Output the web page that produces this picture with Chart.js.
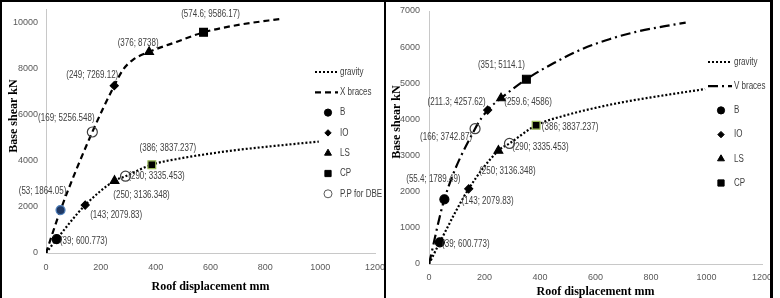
<!DOCTYPE html>
<html>
<head>
<meta charset="utf-8">
<script src="https://cdn.jsdelivr.net/npm/chart.js@4"></script>
<style>
  html, body { margin: 0; padding: 0; background: #fff; }
  body { width: 780px; height: 298px; position: relative; overflow: hidden; }
  canvas { position: absolute; top: 2px; }
  #leftChart { left: 2px; }
  #rightChart { left: 386px; }
  .frame { position: absolute; background: #000; }
</style>
</head>
<body>
<div class="frame" style="left:0;top:0;width:773px;height:2px"></div>
<div class="frame" style="left:0;top:0;width:2px;height:298px"></div>
<div class="frame" style="left:384px;top:0;width:2px;height:298px"></div>
<div class="frame" style="left:770px;top:0;width:3px;height:298px"></div>
<canvas id="leftChart" width="382" height="296"></canvas>
<canvas id="rightChart" width="384" height="296"></canvas>
<script>
// axis ticks
const dispTicks = [0, 200, 400, 600, 800, 1000, 1200];
const leftShearTicks = [0, 2000, 4000, 6000, 8000, 10000];
const rightShearTicks = [0, 1000, 2000, 3000, 4000, 5000, 6000, 7000];

// pushover curves (roof displacement mm / base shear kN)
const gravityX = [0, 39, 143, 250, 290, 386, 500, 600, 700, 800, 900, 995];
const gravityY = [0, 600.773, 2079.83, 3136.348, 3335.453, 3837.237, 4130, 4320, 4480, 4610, 4730, 4840];
const xBracesX = [0, 53, 169, 249, 281, 317, 376, 478, 574.6, 707, 864];
const xBracesY = [0, 1864.05, 5256.548, 7269.12, 7960, 8395, 8738, 9180, 9586.17, 9920, 10180];
const vBracesX = [0, 55.4, 166, 211.3, 259.6, 351, 450, 550, 650, 750, 850, 925];
const vBracesY = [0, 1789.49, 3742.87, 4257.62, 4586, 5114.1, 5560, 5940, 6220, 6430, 6580, 6680];

// performance levels: [braced curve point, gravity curve point]
const leftB = [[53, 1864.05], [39, 600.773]];
const leftIO = [[249, 7269.12], [143, 2079.83]];
const leftLS = [[376, 8738], [250, 3136.348]];
const leftCP = [[574.6, 9586.17], [386, 3837.237]];
const leftPP = [[169, 5256.548], [290, 3335.453]];

const rightB = [[55.4, 1789.49], [39, 600.773]];
const rightIO = [[211.3, 4257.62], [143, 2079.83]];
const rightLS = [[259.6, 4586], [250, 3136.348]];
const rightCP = [[351, 5114.1], [386, 3837.237]];
const rightPP = [[166, 3742.87], [290, 3335.453]];

const SANS = '"Liberation Sans", Arial, sans-serif';
const SERIF = '"Liberation Serif", "Times New Roman", serif';

const toPoints = (xs, ys) => xs.map((x, i) => ({ x: x, y: ys[i] }));
const pairPoints = pairs => pairs.map(p => ({ x: p[0], y: p[1] }));

function curve(label, xs, ys, dash) {
  return {
    label: label, data: toPoints(xs, ys), showLine: true,
    borderColor: '#000', borderWidth: 2.2, borderDash: dash,
    pointRadius: 0, cubicInterpolationMode: 'monotone', order: 2
  };
}

function marker(label, pairs, style, radius, fill, stroke, offsets, extra) {
  return Object.assign({
    label: label, data: pairPoints(pairs), showLine: false,
    pointStyle: style, pointRadius: radius,
    pointBackgroundColor: fill, pointBorderColor: stroke, pointBorderWidth: 1.2,
    labelOffsets: offsets, order: 1
  }, extra || {});
}

// Calibri-like narrow text: squeeze a normal sans horizontally
function narrowText(ctx, text, x, y, align) {
  ctx.save();
  ctx.font = '10px ' + SANS;
  ctx.fillStyle = '#404040';
  ctx.textAlign = align;
  ctx.textBaseline = 'middle';
  ctx.translate(x, y);
  ctx.scale(0.8, 1);
  ctx.fillText(text, 0, 0);
  ctx.restore();
}

// "(x; y)" labels beside each performance point
const pointLabels = {
  id: 'pointLabels',
  afterDatasetsDraw(chart) {
    const ctx = chart.ctx;
    chart.data.datasets.forEach((ds, di) => {
      if (!ds.labelOffsets) return;
      chart.getDatasetMeta(di).data.forEach((pt, i) => {
        const v = ds.data[i];
        const off = ds.labelOffsets[i];
        narrowText(ctx, '(' + v.x + '; ' + v.y + ')', pt.x + off[0], pt.y + off[1], 'center');
      });
    });
  }
};

// legend placed inside the plot, plus the vertical axis title
const sideLegend = {
  id: 'sideLegend',
  afterDraw(chart, args, opts) {
    const ctx = chart.ctx;
    ctx.save();
    let y = opts.y;
    chart.data.datasets.forEach(ds => {
      if (ds.noLegend) return;
      if (ds.showLine) {
        ctx.strokeStyle = '#000';
        ctx.lineWidth = ds.borderWidth;
        ctx.setLineDash(ds.borderDash || []);
        ctx.beginPath();
        ctx.moveTo(opts.lineX, y);
        ctx.lineTo(opts.lineX + opts.lineLen, y);
        ctx.stroke();
        ctx.setLineDash([]);
      } else {
        ctx.fillStyle = '#000';
        ctx.strokeStyle = '#000';
        ctx.lineWidth = 1;
        if (ds.openMarker) { ctx.fillStyle = 'rgba(0,0,0,0)'; ctx.strokeStyle = '#595959'; }
        Chart.helpers.drawPoint(ctx, { pointStyle: ds.pointStyle, radius: ds.pointRadius * 0.8, rotation: 0, borderWidth: 1 },
          opts.markX, y);
      }
      narrowText(ctx, ds.label, opts.textX, y, 'left');
      y += opts.gap;
    });

    ctx.font = 'bold 12px ' + SERIF;
    ctx.fillStyle = '#000';
    ctx.textAlign = 'center';
    ctx.textBaseline = 'middle';
    ctx.translate(opts.titleX, opts.titleY);
    ctx.rotate(-Math.PI / 2);
    ctx.fillText('Base shear kN', 0, 0);
    ctx.restore();
  }
};

// keep the plot area exactly where the layout padding and axis sizes put it
function noEdgePadding(s) {
  s.paddingTop = 0; s.paddingBottom = 0; s.paddingLeft = 0; s.paddingRight = 0;
}

function buildOptions(yMax, yTicks, yWidth, xHeight, pad, xTickPad, xTitlePad, yTickPad, legend) {
  return {
    responsive: false,
    animation: false,
    devicePixelRatio: 1,
    layout: { padding: pad },
    plugins: { legend: { display: false }, tooltip: { enabled: false }, sideLegend: legend },
    scales: {
      x: {
        type: 'linear', min: 0, max: 1200,
        afterBuildTicks: s => { s.ticks = dispTicks.map(v => ({ value: v })); },
        afterFit: s => { s.height = xHeight; noEdgePadding(s); },
        grid: { display: false, drawTicks: false },
        border: { display: true, color: '#c8c8c8', width: 1 },
        ticks: { padding: xTickPad, color: '#595959', font: { family: SANS, size: 9 }, maxRotation: 0,
          callback: v => String(v) },
        title: { display: true, text: 'Roof displacement mm', color: '#000',
          font: { family: SERIF, size: 12, weight: 'bold', lineHeight: 1 }, padding: { top: 0, bottom: xTitlePad } }
      },
      y: {
        type: 'linear', min: 0, max: yMax,
        afterBuildTicks: s => { s.ticks = yTicks.map(v => ({ value: v })); },
        afterFit: s => { s.width = yWidth; noEdgePadding(s); },
        grid: { display: false, drawTicks: false },
        border: { display: true, color: '#c8c8c8', width: 1 },
        ticks: { padding: yTickPad, color: '#595959', font: { family: SANS, size: 9 }, callback: v => String(v) }
      }
    }
  };
}

new Chart(document.getElementById('leftChart'), {
  type: 'scatter',
  data: {
    datasets: [
      curve('gravity', gravityX, gravityY, [2, 2]),
      curve('X braces', xBracesX, xBracesY, [6, 4]),
      marker('B', leftB, 'circle', 4.5, ['#1f3864', '#000'], ['#4f81bd', '#000'], [[-18, -19], [27, 2]]),
      marker('IO', leftIO, 'rectRot', 4, '#000', '#000', [[-22, -10], [31, 10]]),
      marker('LS', leftLS, 'triangle', 5, '#000', '#000', [[-11, -9], [27, 14]]),
      marker('CP', leftCP, 'rect', 5.5, '#000', ['#000', '#9bbb59'], [[7, -18], [16, -16]]),
      marker('P.P for DBE', leftPP, 'circle', 5, 'rgba(255,255,255,0)', '#404040', [[-26, -14], [31, 0]], { openMarker: true })
    ]
  },
  options: buildOptions(10600, leftShearTicks, 44, 45, { left: 0, right: 9, top: 7, bottom: 0 }, 9, 5, 8,
    { y: 70, gap: 20.3, lineX: 313, lineLen: 23, markX: 326, textX: 338, titleX: 12, titleY: 114 }),
  plugins: [pointLabels, sideLegend]
});

new Chart(document.getElementById('rightChart'), {
  type: 'scatter',
  data: {
    datasets: [
      curve('gravity', gravityX, gravityY, [2, 2]),
      curve('V braces', vBracesX, vBracesY, [10, 4, 2, 4]),
      marker('B', rightB, 'circle', 4.5, '#000', '#000', [[-11, -20], [26, 2]]),
      marker('IO', rightIO, 'rectRot', 4, '#000', '#000', [[-31, -8], [19, 12]]),
      marker('LS', rightLS, 'triangle', 5, '#000', '#000', [[27, 4], [9, 21]]),
      marker('CP', rightCP, 'rect', 5.5, '#000', ['#000', '#9bbb59'], [[-25, -14], [34, 2]]),
      marker('P.P', rightPP, 'circle', 5, 'rgba(255,255,255,0)', '#404040', [[-29, 9], [31, 4]], { noLegend: true })
    ]
  },
  options: buildOptions(7000, rightShearTicks, 43, 34, { left: 0, right: 8, top: 9, bottom: 0 }, 8, 0, 9,
    { y: 60, gap: 24.2, lineX: 322, lineLen: 24, markX: 335, textX: 348, titleX: 10.5, titleY: 120 }),
  plugins: [pointLabels, sideLegend]
});
</script>
</body>
</html>
